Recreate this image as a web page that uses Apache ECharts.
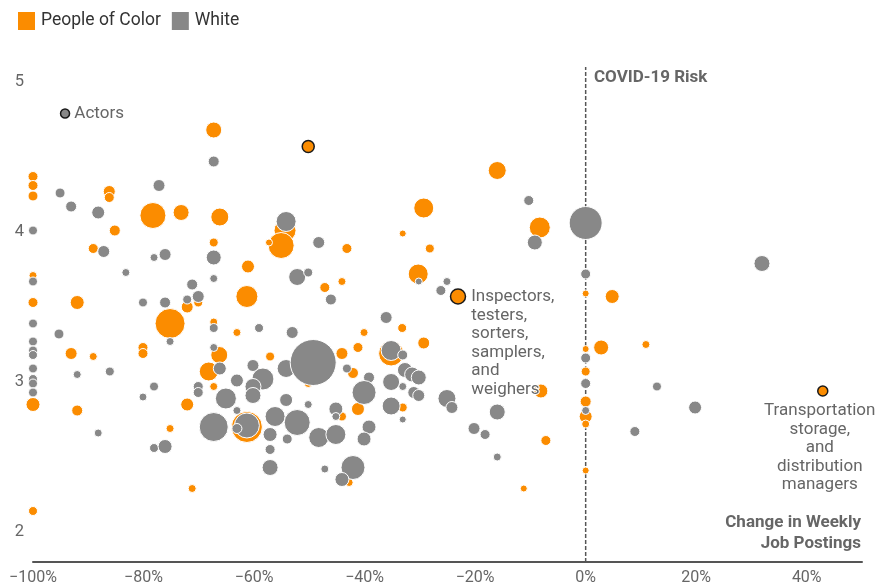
<!DOCTYPE html>
<html>
<head>
<meta charset="utf-8">
<script src="https://cdn.jsdelivr.net/npm/echarts@6/dist/echarts.min.js"></script>
<style>
html,body{margin:0;padding:0;background:#fff;}
#chart{width:877px;height:588px;}
</style>
</head>
<body>
<div id="chart"></div>
<script>
// [change in weekly job postings (%), COVID-19 risk score, workers (thousands)]
const peopleOfColor = [
  [-100,4.37,400],[-100,4.31,400],[-100,4.24,400],[-100,3.71,256],[-100,3.53,400],[-100,2.85,784],[-100,2.14,324],
  [-67.3,4.68,1024],[-86.2,4.27,576],[-86.2,4.23,400],[-78.3,4.11,2704],[-73.2,4.13,1024],[-66.2,4.10,1296],
  [-54.4,4.01,1936],[-55.1,3.91,2704],[-85.2,4.01,484],[-89.1,3.89,400],[-67.3,3.93,324],[-61.1,3.77,676],
  [-61.3,3.57,1936],[-92.0,3.53,784],[-72.1,3.50,576],[-70.1,3.53,324],[-75.2,3.39,3600],[-93.1,3.19,576],
  [-89.1,3.17,256],[-80.1,3.23,400],[-80.1,3.19,400],[-72.1,2.85,676],[-92.0,2.81,484],[-75.2,2.69,256],
  [-71.2,2.29,256],[-67.3,3.40,256],[-63.1,3.33,256],[-66.3,3.18,1156],[-68.2,3.07,1444],[-57.1,3.17,324],
  [-67.3,2.97,256],[-61.3,2.70,3844],[-57.3,3.93,196],[-47.2,3.63,400],[-16.0,4.41,1296],[-29.3,4.16,1600],
  [-8.3,4.03,1764],[-33.1,3.99,196],[-28.2,3.89,324],[-43.2,3.89,400],[-44.1,3.67,256],[-30.3,3.72,1600],
  [0,3.59,196],[4.8,3.57,784],[-40.1,3.33,256],[-33.2,3.36,324],[-29.3,3.26,576],[-41.2,3.23,400],
  [-44.1,3.19,576],[-35.2,3.19,2500],[-42.1,3.06,484],[-44.1,2.77,324],[-41.2,2.82,676],[-33.1,2.83,324],
  [-42.8,2.33,256],[-7.2,2.61,400],[-11.2,2.29,196],[-8.1,2.94,784],[0,3.22,196],[0,3.07,324],[0,2.87,484],
  [0,2.77,676],[0,2.72,256],[0,2.41,196],[2.8,3.23,900],[10.9,3.25,256],[-50.2,2.99,256]
];
const white = [
  [-100,4.01,324],[-100,3.67,324],[-100,3.39,324],[-100,3.27,324],[-100,3.21,324],[-100,3.18,324],
  [-100,3.09,324],[-100,3.02,324],[-100,2.99,324],[-100,2.93,324],[-67.3,4.47,484],[-95.1,4.26,400],
  [-93.1,4.17,484],[-88.2,4.13,676],[-77.2,4.31,576],[-54.2,4.07,1600],[-87.2,3.87,576],[-67.3,3.83,900],
  [-78.1,3.83,256],[-76.1,3.85,576],[-83.2,3.73,256],[-67.3,3.69,256],[-52.2,3.70,1156],[-71.2,3.65,484],
  [-72.1,3.55,324],[-70.1,3.57,576],[-80.1,3.53,324],[-76.1,3.53,484],[-75.2,3.27,256],[-95.3,3.32,400],
  [-92.0,3.05,256],[-86.1,3.07,324],[-78.1,2.97,324],[-80.1,2.90,256],[-88.2,2.66,256],[-78.1,2.56,324],
  [-76.1,2.57,784],[-59.1,3.36,324],[-67.3,3.36,324],[-53.1,3.33,576],[-67.3,3.23,256],[-66.2,3.09,676],
  [-60.2,3.11,576],[-58.4,3.02,1936],[-54.2,3.09,1296],[-49.3,3.13,8464],[-63.1,3.01,676],[-70.1,2.97,400],
  [-70.1,2.93,400],[-60.2,2.97,1024],[-60.2,2.91,1024],[-65.1,2.89,1764],[-63.1,2.81,256],[-54.2,2.88,676],
  [-50.2,2.85,256],[-67.3,2.70,3364],[-61.3,2.71,2500],[-63.1,2.69,400],[-56.2,2.77,1600],[-52.2,2.73,2704],
  [-57.1,2.65,784],[-54.0,2.62,400],[-48.3,2.63,1600],[-57.1,2.55,400],[-57.1,2.43,1024],[-47.2,2.42,256],
  [-48.3,3.93,576],[-50.2,3.73,324],[-46.1,3.55,484],[-10.3,4.21,400],[-9.2,3.93,900],[0,4.06,4356],
  [-25.1,3.67,256],[-26.2,3.61,400],[-30.2,3.67,196],[0,3.72,400],[-36.1,3.43,576],[-35.2,3.21,1600],
  [-33.1,3.18,400],[-43.2,3.09,324],[-39.2,3.03,484],[-40.1,2.93,2304],[-35.2,3.00,1156],[-32.7,3.08,900],
  [-31.4,3.05,900],[-30.2,3.03,900],[-31.1,2.93,576],[-30.2,2.91,576],[-33.1,2.97,256],[-25.1,2.89,1296],
  [-24.2,2.83,576],[-45.2,2.82,784],[-45.2,2.77,256],[-35.2,2.84,1296],[-33.1,2.75,196],[-45.2,2.65,1600],
  [-39.2,2.70,784],[-40.1,2.62,784],[-42.1,2.43,2304],[-44.1,2.35,784],[-20.2,2.69,576],[-18.2,2.65,400],
  [-16.0,2.80,1024],[-16.0,2.50,256],[0,3.16,400],[0,2.99,400],[0,2.81,256],[12.9,2.97,324],
  [19.8,2.83,676],[8.9,2.67,400],[31.9,3.79,1024]
];
// highlighted occupations: [change %, risk, workers, label]
const pocCallouts = [
  [-50.2,4.57,576,''],
  [-23.1,3.57,900,'Inspectors,\ntesters,\nsorters,\nsamplers,\nand\nweighers'],
  [42.9,2.94,400,'Transportation\nstorage,\nand\ndistribution\nmanagers']
];
const whiteCallouts = [
  [-94.2,4.79,324,'Actors']
];
const xTicks = [-100,-80,-60,-40,-20,0,20,40];
const yTicks = [2,3,4,5];
const zeroLine = [[0,1.8],[0,5.1]];

const ORANGE = '#fb8c00', GREY = '#888888', TEXT = '#666666';
const FONT = 'Roboto';

function labelFor(text){
  if (!text) return {show:false};
  const base = {show:true, formatter:text, color:TEXT, fontFamily:FONT, fontSize:17,
    lineHeight:18.5, textBorderColor:'#fff', textBorderWidth:2};
  if (text.indexOf('Transportation') === 0) {
    return Object.assign(base, {position:'bottom', distance:5, align:'center', offset:[-3,0]});
  }
  if (text.indexOf('Inspectors') === 0) {
    return Object.assign(base, {position:'right', distance:5, verticalAlign:'top', offset:[0,-9]});
  }
  return Object.assign(base, {position:'right', distance:4});
}
function callout(c){
  return {value:[c[0],c[1],c[2]], itemStyle:{borderColor:'#1a1a1a', borderWidth:1.5}, label:labelFor(c[3])};
}

const chart = echarts.init(document.getElementById('chart'));
chart.setOption({
  animation:false,
  textStyle:{fontFamily:FONT},
  legend:{
    left:11, top:5, itemWidth:19, itemHeight:20, itemGap:9,
    icon:'rect',
    textStyle:{fontSize:17.5, color:'#333', fontFamily:FONT},
    data:['People of Color','White']
  },
  grid:{left:33, right:15, top:67, bottom:26, containLabel:false},
  xAxis:{
    type:'value', min:-100, max:50,
    axisLine:{show:true, lineStyle:{color:'#555', width:2}},
    axisTick:{show:false},
    splitLine:{show:false},
    axisLabel:{customValues:xTicks, color:TEXT, fontSize:16, margin:8, fontFamily:FONT,
      formatter:v => (v<0?'−':'') + Math.abs(v) + '%'}
  },
  yAxis:{
    type:'value', min:1.8, max:5.1,
    axisLine:{show:false}, axisTick:{show:false}, splitLine:{show:false},
    axisLabel:{customValues:yTicks, color:TEXT, fontSize:16.5, margin:9, fontFamily:FONT}
  },
  series:[
    {type:'line', data:zeroLine, symbol:'none', silent:true, z:1,
      lineStyle:{color:'#555', width:1.5, type:[4,2]}},
    {name:'People of Color', type:'scatter', z:2,
      symbolSize:v => Math.sqrt(v[2])/2,
      itemStyle:{color:ORANGE, borderColor:'#fff', borderWidth:1, opacity:1},
      data:peopleOfColor.map(p=>({value:p})).concat(pocCallouts.map(callout))},
    {name:'White', type:'scatter', z:3,
      symbolSize:v => Math.sqrt(v[2])/2,
      itemStyle:{color:GREY, borderColor:'#fff', borderWidth:1, opacity:1},
      data:white.map(p=>({value:p})).concat(whiteCallouts.map(callout))}
  ],
  graphic:[
    {type:'text', left:594, top:69, z:10,
      style:{text:'COVID-19 Risk', fill:TEXT, font:'bold 17px Roboto'}},
    {type:'text', right:16, top:514, z:10,
      style:{text:'Change in Weekly', fill:TEXT, font:'bold 17px Roboto'}},
    {type:'text', right:16, top:535, z:10,
      style:{text:'Job Postings', fill:TEXT, font:'bold 17px Roboto'}}
  ]
});
</script>
</body>
</html>
